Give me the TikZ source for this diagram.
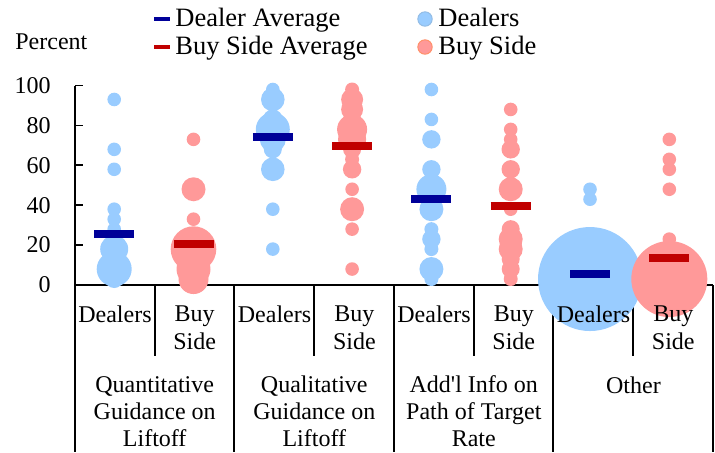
\documentclass[tikz,border=0pt]{standalone}
\usepackage{fontspec}
\setmainfont{Liberation Serif}
\usepackage{tikz}

\definecolor{dealerfill}{HTML}{99CCFF}
\definecolor{buyfill}{HTML}{FF9999}
\definecolor{dealeravg}{HTML}{000099}
\definecolor{buyavg}{HTML}{C00000}

\begin{document}
\begin{tikzpicture}[x=0.5pt, y=-0.5pt,
    dealer/.style={fill=dealerfill},
    buyside/.style={fill=buyfill},
    avgbar/.style={line width=4pt},
    axisline/.style={line width=0.9pt},
    ticklabel/.style={font=\fontsize{12}{14}\selectfont, anchor=east, inner sep=0pt},
    catlabel/.style={font=\fontsize{12}{14}\selectfont, align=center, inner sep=0pt},
    grouplabel/.style={font=\fontsize{12}{13.5}\selectfont, align=center, inner sep=0pt},
    legendtext/.style={font=\fontsize{13.25}{14}\selectfont, anchor=base west, inner sep=0pt}]

    \useasboundingbox (0,0) rectangle (715,452);

    % Axes and category dividers
    \draw[axisline] (75,86) -- (75,452);
    \draw[axisline] (75,285) -- (713,285);
    \foreach \x in {234,394,553,713} \draw[axisline] (\x,285) -- (\x,452);
    \foreach \x in {155,314,474,633} \draw[axisline] (\x,285) -- (\x,356);

    \node[font=\fontsize{12}{14}\selectfont, anchor=base west, inner sep=0pt] (percent) at (15,49) {Percent};

    % Data region: x in pixels, y in percent
    \begin{scope}[shift={(0,285)}, y=0.9975pt]
    \foreach \v in {0,20,...,100} {
        \draw[axisline] (75,\v) -- (82.5,\v);
        \node[ticklabel] (tick\v) at (51,\v) {\v};
    }

    % Quantitative guidance on liftoff
    \foreach \v/\r in {93/3.4,68/3.4,58/3.4,38/3.4,33/3.4,28/3.4,18/7,8/8.75,3/4.5}
        \fill[dealer] (114.2,\v) circle[radius=\r pt];
    \foreach \v/\r in {73/3.4,48/6,33/3.4,18/11.4,8/8.5,3/7.5}
        \fill[buyside] (193.5,\v) circle[radius=\r pt];

    % Qualitative guidance on liftoff
    \foreach \v/\r in {98/3.4,93/5.9,83/5,78/8.5,73/6.5,68/4.5,58/5.9,38/3.4,18/3.4}
        \fill[dealer] (272.8,\v) circle[radius=\r pt];
    \foreach \v/\r in {98/3.5,93/5.5,88/5.5,83/4.5,78/7.5,73/7,68/4.5,63/3.5,58/4.6,48/3.4,38/6,28/3.4,8/3.4}
        \fill[buyside] (352.1,\v) circle[radius=\r pt];

    % Path of target rate
    \foreach \v/\r in {98/3.4,83/3.4,73/4.6,58/4.6,48/7.5,38/6,28/3.5,23/4.6,18/3.5,8/6,3/3.5}
        \fill[dealer] (431.4,\v) circle[radius=\r pt];
    \foreach \v/\r in {88/3.4,78/3.4,73/3.4,68/4.6,58/4.6,48/6,38/3.4,28/4.5,23/6,18/6,13/4.5,8/4.5,3/3.5}
        \fill[buyside] (510.7,\v) circle[radius=\r pt];

    % Other
    \foreach \v/\r in {48/3.4,43/3.4,3/26}
        \fill[dealer] (590,\v) circle[radius=\r pt];
    \foreach \v/\r in {73/3.4,63/3.4,58/3.4,48/3.4,23/3.4,3/19}
        \fill[buyside] (669.3,\v) circle[radius=\r pt];

    % Averages
    \foreach \c/\a in {114.2/25.6,272.8/74.4,431.4/43.2,590/5.7}
        \draw[avgbar, dealeravg] (\c-20,\a) -- (\c+20,\a);
    \foreach \c/\a in {193.5/20.6,352.1/69.5,510.7/39.7,669.3/13.7}
        \draw[avgbar, buyavg] (\c-20,\a) -- (\c+20,\a);
    \end{scope}

    % Category labels
    \foreach \x [count=\i] in {115,274.5,434,593.5}
        \node[catlabel] (dl\i) at (\x,314) {Dealers};
    \foreach \x [count=\i] in {194.7,354.4,513.8,673.3}
        \node[catlabel] (bs\i) at (\x,328) {Buy\\Side};
    \node[grouplabel] (quant) at (154.7,411.5) {Quantitative\\Guidance on\\Liftoff};
    \node[grouplabel] (qual) at (314.3,411.5) {Qualitative\\Guidance on\\Liftoff};
    \node[grouplabel] (path) at (473.8,411.5) {Add\textquotesingle l Info on\\Path of Target\\Rate};
    \node[grouplabel] (other) at (633.4,385.5) {Other};

    % Legend
    \draw[dealeravg, line width=1.7pt] (154,19) -- (170,19);
    \node[legendtext] (legdavg) at (175,26.5) {Dealer Average};
    \draw[buyavg, line width=1.7pt] (154,47) -- (170,47);
    \node[legendtext] (legbavg) at (175,54.5) {Buy Side Average};
    \filldraw[dealer, draw=dealerfill!80!gray, line width=0.5pt] (425,19) circle[radius=3.6pt];
    \node[legendtext] (legd) at (438,26.5) {Dealers};
    \filldraw[buyside, draw=buyfill!70!orange, line width=0.5pt] (425,47) circle[radius=3.6pt];
    \node[legendtext] (legb) at (438,54.5) {Buy Side};
\end{tikzpicture}
\end{document}
